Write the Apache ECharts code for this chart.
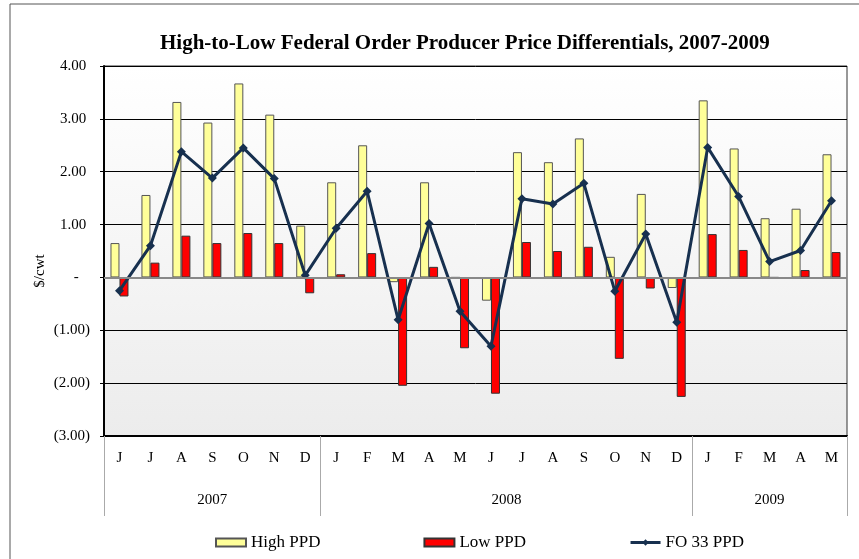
<!DOCTYPE html>
<html>
<head>
  <meta charset="utf-8">
  <title>PPD differentials</title>
  <style>
    html, body, #main { margin: 0; padding: 0; width: 859px; height: 559px; background: #fff; }
  </style>
  <script src="https://cdn.jsdelivr.net/npm/echarts@6/dist/echarts.min.js"></script>
</head>
<body>
  <div id="main"></div>
  <script>
    // months Jun 2007 .. May 2009
    var months = ['J','J','A','S','O','N','D','J','F','M','A','M','J','J','A','S','O','N','D','J','F','M','A','M'];
    var yearStarts = [0, 7, 19];
    var years = { '3.5': '2007', '13': '2008', '21.5': '2009' };

    var highPPD = [0.65, 1.56, 3.32, 2.93, 3.67, 3.08, 0.98,
                   1.80, 2.50, -0.09, 1.80, 0, -0.44, 2.37, 2.18, 2.63, 0.39, 1.58, -0.20,
                   3.35, 2.44, 1.12, 1.30, 2.33];
    var lowPPD = [-0.36, 0.28, 0.79, 0.65, 0.84, 0.65, -0.30,
                  0.06, 0.46, -2.05, 0.20, -1.34, -2.20, 0.67, 0.50, 0.58, -1.54, -0.21, -2.26,
                  0.82, 0.52, 0, 0.14, 0.48];
    var fo33PPD = [-0.25, 0.60, 2.38, 1.88, 2.45, 1.87, 0.04,
                   0.93, 1.63, -0.80, 1.02, -0.64, -1.30, 1.49, 1.39, 1.78, -0.26, 0.82, -0.85,
                   2.46, 1.53, 0.30, 0.51, 1.45];

    var serif = '"Liberation Serif", "DejaVu Serif", serif';

    function money(v) {
      if (v === 0) return '-   ';
      if (v < 0) return '(' + Math.abs(v).toFixed(2) + ')';
      return v.toFixed(2) + ' ';
    }

    var chart = echarts.init(document.getElementById('main'));
    chart.setOption({
      backgroundColor: '#fff',
      animation: false,
      title: {
        text: 'High-to-Low Federal Order Producer Price Differentials, 2007-2009',
        left: 155,
        top: 28,
        textStyle: { fontFamily: serif, fontSize: 21, fontWeight: 'bold', color: '#000' }
      },
      graphic: [{
        type: 'rect',
        shape: { x: 10, y: 4, width: 900, height: 600 },
        style: { fill: 'none', stroke: '#555', lineWidth: 1 },
        silent: true
      }, {
        // y axis unit
        type: 'text',
        x: 40, y: 271,
        rotation: Math.PI / 2,
        style: {
          text: '$/cwt', fill: '#000', font: '15px ' + serif,
          align: 'center', verticalAlign: 'middle'
        },
        silent: true
      }],
      legend: {
        bottom: 3,
        left: 210,
        itemGap: 103,
        itemWidth: 30,
        itemHeight: 8,
        lineStyle: { width: 3 },
        textStyle: { fontFamily: serif, fontSize: 17, color: '#000' },
        data: [
          { name: 'High PPD', icon: 'rect' },
          { name: 'Low PPD', icon: 'rect' },
          { name: 'FO 33 PPD' }
        ]
      },
      grid: {
        left: 104, right: 12, top: 66, bottom: 123,
        show: true,
        borderColor: '#333',
        borderWidth: 1,
        backgroundColor: new echarts.graphic.LinearGradient(0, 0, 0, 1, [
          { offset: 0, color: '#ffffff' },
          { offset: 1, color: '#ececec' }
        ])
      },
      xAxis: [{
        type: 'category',
        data: months,
        position: 'bottom',
        axisLine: { onZero: false, lineStyle: { color: '#000', width: 2 } },
        axisTick: { show: false },
        axisLabel: { interval: 0, margin: 15, fontFamily: serif, fontSize: 15, color: '#000' }
      }, {
        type: 'category',
        data: months,
        position: 'bottom',
        axisLine: { show: false, onZero: false },
        axisLabel: { show: false },
        axisTick: {
          show: true,
          length: 80,
          interval: function (i) { return yearStarts.indexOf(i) >= 0; },
          lineStyle: { color: '#aaa', width: 1 }
        }
      }, {
        type: 'value',
        min: 0, max: 24, interval: 0.5,
        position: 'bottom',
        axisLine: { show: false, onZero: false },
        axisTick: { show: false },
        splitLine: { show: false },
        axisLabel: {
          margin: 57,
          fontFamily: serif, fontSize: 15, color: '#000',
          showMinLabel: true, showMaxLabel: true,
          formatter: function (v) { return years[String(v)] || ''; }
        }
      }],
      yAxis: {
        type: 'value',
        min: -3, max: 4, interval: 1,
        axisLine: { show: true, lineStyle: { color: '#000', width: 2 } },
        axisTick: { show: true, length: 4, lineStyle: { color: '#000' } },
        axisLabel: { margin: 14, fontFamily: serif, fontSize: 15, color: '#000', formatter: money },
        splitLine: { lineStyle: { color: '#000', width: 1 } }
      },
      series: [{
        name: 'High PPD',
        type: 'bar',
        data: highPPD,
        barWidth: 9,
        barGap: '0%',
        itemStyle: { color: '#ffff99', borderColor: '#555', borderWidth: 1 },
        markLine: {
          silent: true,
          symbol: 'none',
          label: { show: false },
          lineStyle: { color: '#888', width: 2, type: 'solid' },
          data: [{ yAxis: 0 }]
        }
      }, {
        name: 'Low PPD',
        type: 'bar',
        data: lowPPD,
        barWidth: 9,
        itemStyle: { color: '#ff0000', borderColor: '#333', borderWidth: 1 }
      }, {
        name: 'FO 33 PPD',
        type: 'line',
        data: fo33PPD,
        symbol: 'diamond',
        symbolSize: 9,
        lineStyle: { color: '#17304f', width: 3 },
        itemStyle: { color: '#17304f' }
      }]
    });
  </script>
</body>
</html>
